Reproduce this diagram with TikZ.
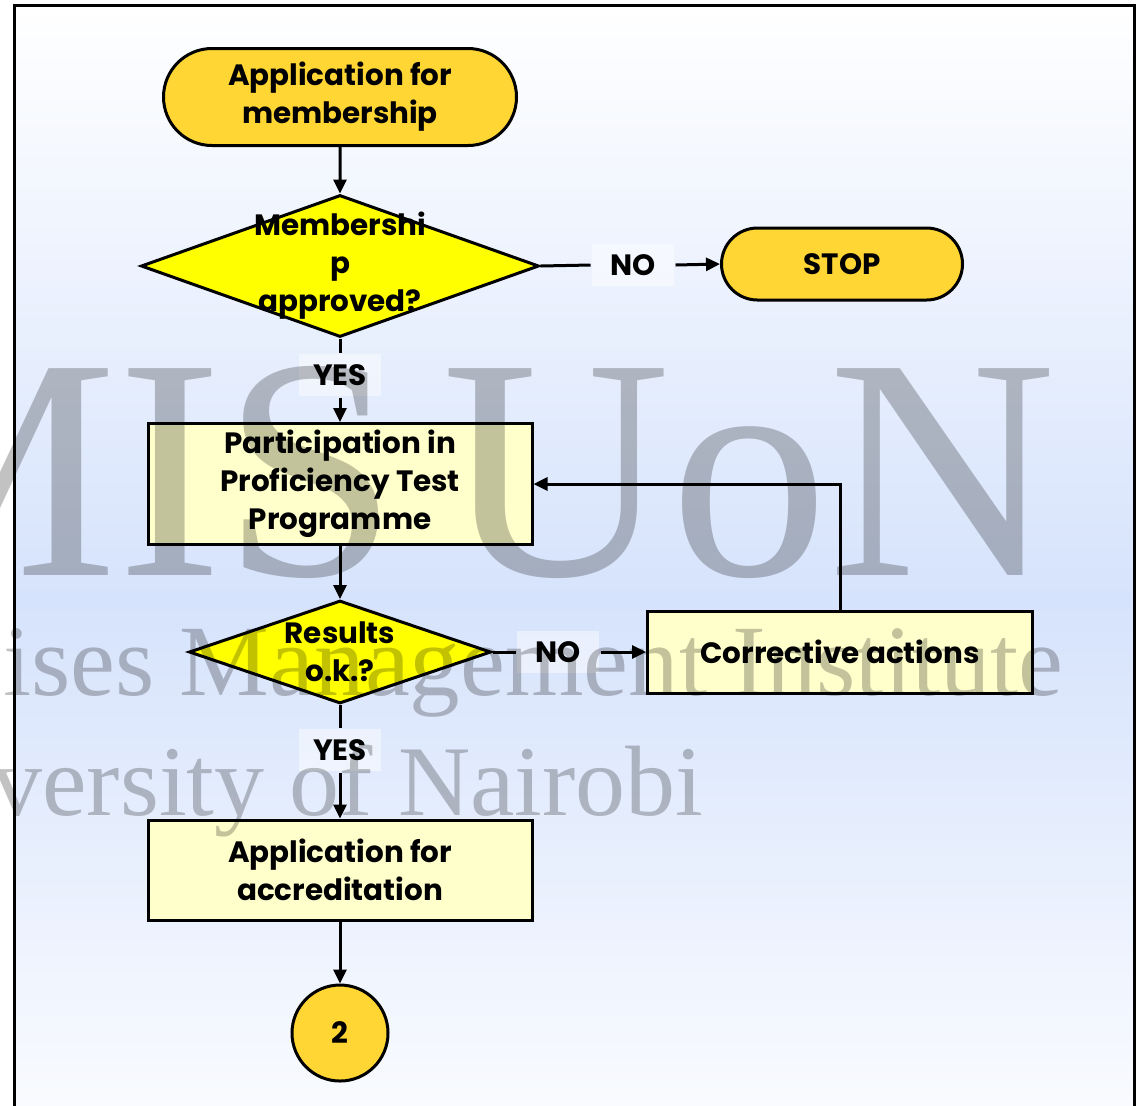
\documentclass[tikz,border=0pt]{standalone}
\usepackage{fontspec}
\setmainfont{Poppins}
\newfontfamily\wmfont{Liberation Serif}
\usetikzlibrary{calc, positioning}
\usetikzlibrary{arrows.meta}
\usetikzlibrary{shapes.geometric, shapes.misc}

\definecolor{termgold}{HTML}{FFD633}
\definecolor{decyellow}{HTML}{FFFF00}
\definecolor{boxcream}{HTML}{FFFFCC}
\definecolor{bgblue}{HTML}{D6E3FC}

\begin{document}
\begin{tikzpicture}[x=0.5pt, y=-0.5pt,
    font=\bfseries\fontsize{14.7}{19}\selectfont,
    line width=1.5pt,
    >={Triangle[length=7pt, width=6.5pt]},
    terminal/.style={rounded rectangle, draw, fill=termgold, align=center, inner sep=0pt},
    decision/.style={diamond, draw, fill=decyellow, inner sep=0pt},
    process/.style={rectangle, draw, fill=boxcream, align=center, inner sep=0pt, minimum width=192pt},
    answer/.style={fill=white, fill opacity=0.45, text opacity=1, inner sep=0pt, minimum width=41pt, minimum height=21pt},
    wmtext/.style={text=black, text opacity=0.24, inner sep=0pt}]
      \useasboundingbox (0,0) rectangle (1138,1105);

      % background and frame
      \fill[white] (0,0) rectangle (1138,1105);
      \shade[top color=white, bottom color=white, middle color=bgblue] (14,5) rectangle (1134,1195);
      \draw (14,5) rectangle (1134,1200);

      % flow chart
      \node[terminal, minimum width=176.5pt, minimum height=48.5pt] (apply) at (340,97) {Application for\\membership};
      \node[decision, minimum width=199pt, minimum height=71pt,
            label={[align=center]center:{Membershi\\p\\approved?}}] (member) at (340,266) {};
      \node[answer] (no1) at (633,265) {NO};
      \node[terminal, minimum width=120.5pt, minimum height=36pt] (stop) at (842,264) {STOP};
      \node[answer] (yes1) at (340,375) {YES};
      \node[process, minimum height=60.5pt] (ppt) at (340,484) {Participation in\\Proficiency Test\\Programme};
      \node[decision, minimum width=151pt, minimum height=51.5pt,
            label={[align=center]center:{Results\\o.k.?}}] (results) at (340,652) {};
      \node[answer] (no2) at (558,652) {NO};
      \node[process, minimum width=192.5pt, minimum height=41pt] (corr) at (840,652) {Corrective actions};
      \node[answer] (yes2) at (340,750) {YES};
      \node[process, minimum height=50pt] (accr) at (340,870) {Application for\\accreditation};
      \node[circle, draw, fill=termgold, minimum size=48pt, inner sep=0pt] (conn) at (340,1033) {2};

      \draw[->] (apply) -- (member);
      \draw (member.east) -- (no1.west);
      \draw[->] (no1.east) -- (stop.west);
      \draw (member.south) -- (yes1.north);
      \draw[->] (yes1) -- (ppt);
      \draw[->] (ppt) -- (results);
      \draw (results.east) -- (no2.west);
      \draw[->] (no2) -- (corr);
      \draw[->] (corr.north) |- (ppt.east);
      \draw (results.south) -- (yes2.north);
      \draw[->] (yes2) -- (accr);
      \draw[->] (accr) -- (conn);

      % watermark
      \node[wmtext, font=\wmfont\fontsize{158}{160}\selectfont, anchor=base east] (wmmis) at (400,575) {MIS};
      \node[wmtext, font=\wmfont\fontsize{158}{160}\selectfont, anchor=base east] (wmuon) at (1058,575) {UoN};
      \node[wmtext, font=\wmfont\fontsize{50.5}{52}\selectfont, anchor=base east] (wminst) at (1065,695) {ises Management Institute};
      \node[wmtext, font=\wmfont\fontsize{50}{52}\selectfont, anchor=base east] (wmuni) at (705,815) {versity of Nairobi};
\end{tikzpicture}
\end{document}
